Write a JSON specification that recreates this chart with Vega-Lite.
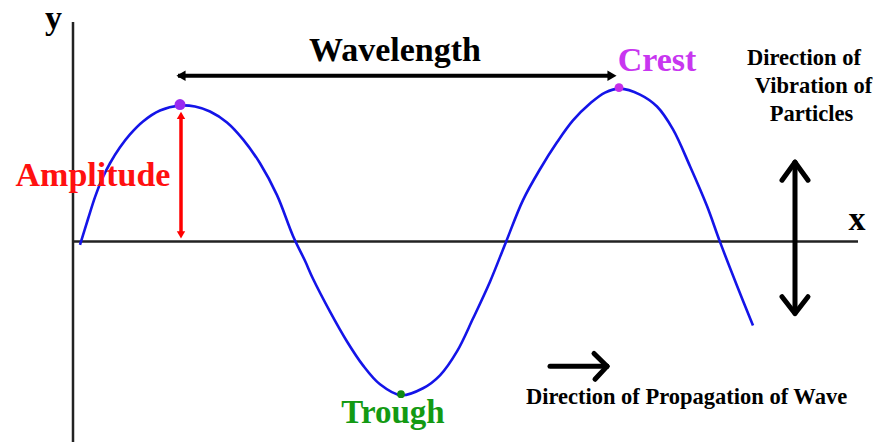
{
  "$schema": "https://vega.github.io/schema/vega-lite/v6.json",
  "width": 873,
  "height": 444,
  "autosize": {"type": "fit", "contains": "padding"},
  "padding": 0,
  "background": "white",
  "config": {"view": {"stroke": null}},
  "datasets": {
    "axes": [
      {"x": 73, "y": 22, "x2": 73, "y2": 444},
      {"x": 73, "y": 242.5, "x2": 858, "y2": 242.5}
    ],
    "wave": [
      {"x": 80, "y": 246}, {"x": 88, "y": 220}, {"x": 95, "y": 198}, {"x": 102, "y": 180},
      {"x": 110, "y": 164}, {"x": 120, "y": 148}, {"x": 130, "y": 135}, {"x": 143, "y": 122},
      {"x": 160, "y": 111}, {"x": 180, "y": 106}, {"x": 195, "y": 107}, {"x": 210, "y": 112},
      {"x": 227, "y": 123}, {"x": 243, "y": 140}, {"x": 260, "y": 164}, {"x": 277, "y": 196},
      {"x": 293, "y": 237}, {"x": 305, "y": 262}, {"x": 313, "y": 280}, {"x": 330, "y": 313},
      {"x": 347, "y": 343}, {"x": 363, "y": 367}, {"x": 380, "y": 386}, {"x": 401, "y": 397},
      {"x": 423, "y": 390}, {"x": 440, "y": 377}, {"x": 457, "y": 353}, {"x": 473, "y": 320},
      {"x": 490, "y": 283}, {"x": 506, "y": 243}, {"x": 523, "y": 201}, {"x": 540, "y": 170},
      {"x": 557, "y": 143}, {"x": 573, "y": 121}, {"x": 590, "y": 104}, {"x": 605, "y": 93},
      {"x": 620, "y": 89}, {"x": 640, "y": 95}, {"x": 657, "y": 107}, {"x": 673, "y": 130},
      {"x": 690, "y": 167}, {"x": 707, "y": 207}, {"x": 720, "y": 243}, {"x": 737, "y": 287},
      {"x": 753, "y": 327}
    ],
    "wavelength": [{"x": 178, "y": 76, "x2": 612, "y2": 76}],
    "amplitude": [{"x": 181, "y": 116, "x2": 181, "y2": 236}],
    "bigArrows": [
      {"x": 795, "y": 164, "x2": 795, "y2": 314},
      {"x": 795, "y": 163, "x2": 782, "y2": 181},
      {"x": 795, "y": 163, "x2": 808, "y2": 181},
      {"x": 795, "y": 315, "x2": 782, "y2": 298},
      {"x": 795, "y": 315, "x2": 808, "y2": 298},
      {"x": 550, "y": 368, "x2": 607, "y2": 368},
      {"x": 607, "y": 368, "x2": 594, "y2": 355},
      {"x": 607, "y": 368, "x2": 595, "y2": 381}
    ]
  },
  "encoding": {
    "x": {"type": "quantitative", "scale": {"domain": [0, 873], "nice": false, "zero": false}, "axis": null},
    "y": {"type": "quantitative", "scale": {"domain": [0, 444], "nice": false, "zero": false, "reverse": true}, "axis": null}
  },
  "layer": [
    {
      "data": {"name": "axes"},
      "mark": {"type": "rule", "color": "#222222", "strokeWidth": 2.5},
      "encoding": {"x": {"field": "x"}, "y": {"field": "y"}, "x2": {"field": "x2"}, "y2": {"field": "y2"}}
    },
    {
      "data": {"name": "wave"},
      "mark": {"type": "line", "color": "#1414e8", "strokeWidth": 2.6, "interpolate": "catmull-rom"},
      "encoding": {"x": {"field": "x"}, "y": {"field": "y"}}
    },
    {
      "data": {"name": "wavelength"},
      "mark": {"type": "rule", "color": "#000000", "strokeWidth": 4},
      "encoding": {"x": {"field": "x"}, "y": {"field": "y"}, "x2": {"field": "x2"}, "y2": {"field": "y2"}}
    },
    {
      "data": {"values": [{"x": 181, "y": 76}]},
      "mark": {"type": "point", "shape": "triangle-left", "filled": true, "color": "#000000", "size": 110, "opacity": 1},
      "encoding": {"x": {"field": "x"}, "y": {"field": "y"}}
    },
    {
      "data": {"values": [{"x": 612, "y": 76}]},
      "mark": {"type": "point", "shape": "triangle-right", "filled": true, "color": "#000000", "size": 110, "opacity": 1},
      "encoding": {"x": {"field": "x"}, "y": {"field": "y"}}
    },
    {
      "data": {"name": "amplitude"},
      "mark": {"type": "rule", "color": "#ff0000", "strokeWidth": 3.5},
      "encoding": {"x": {"field": "x"}, "y": {"field": "y"}, "x2": {"field": "x2"}, "y2": {"field": "y2"}}
    },
    {
      "data": {"values": [{"x": 181, "y": 116}]},
      "mark": {"type": "point", "shape": "triangle-up", "filled": true, "color": "#ff0000", "size": 70, "opacity": 1},
      "encoding": {"x": {"field": "x"}, "y": {"field": "y"}}
    },
    {
      "data": {"values": [{"x": 181, "y": 236}]},
      "mark": {"type": "point", "shape": "triangle-down", "filled": true, "color": "#ff0000", "size": 70, "opacity": 1},
      "encoding": {"x": {"field": "x"}, "y": {"field": "y"}}
    },
    {
      "data": {"name": "bigArrows"},
      "mark": {"type": "rule", "color": "#000000", "strokeWidth": 5, "strokeCap": "round"},
      "encoding": {"x": {"field": "x"}, "y": {"field": "y"}, "x2": {"field": "x2"}, "y2": {"field": "y2"}}
    },
    {
      "data": {"values": [{"x": 180, "y": 105}]},
      "mark": {"type": "point", "filled": true, "color": "#9a2cf0", "size": 120, "opacity": 1},
      "encoding": {"x": {"field": "x"}, "y": {"field": "y"}}
    },
    {
      "data": {"values": [{"x": 619, "y": 88}]},
      "mark": {"type": "point", "filled": true, "color": "#c42ee8", "size": 80, "opacity": 1},
      "encoding": {"x": {"field": "x"}, "y": {"field": "y"}}
    },
    {
      "data": {"values": [{"x": 401, "y": 396}]},
      "mark": {"type": "point", "filled": true, "color": "#128a12", "size": 60, "opacity": 1},
      "encoding": {"x": {"field": "x"}, "y": {"field": "y"}}
    },
    {
      "data": {"values": [
        {"x": 395, "y": 61, "label": "Wavelength"},
        {"x": 53.5, "y": 29, "label": "y"},
        {"x": 857, "y": 231.5, "label": "x"}
      ]},
      "mark": {"type": "text", "font": "Liberation Serif", "fontWeight": "bold", "fontSize": 34, "color": "#000000", "align": "center", "baseline": "alphabetic"},
      "encoding": {"x": {"field": "x"}, "y": {"field": "y"}, "text": {"field": "label"}}
    },
    {
      "data": {"values": [{"x": 93, "y": 186.5, "label": "Amplitude"}]},
      "mark": {"type": "text", "font": "Liberation Serif", "fontWeight": "bold", "fontSize": 34, "color": "#ff1010", "align": "center", "baseline": "alphabetic"},
      "encoding": {"x": {"field": "x"}, "y": {"field": "y"}, "text": {"field": "label"}}
    },
    {
      "data": {"values": [{"x": 657, "y": 71.5, "label": "Crest"}]},
      "mark": {"type": "text", "font": "Liberation Serif", "fontWeight": "bold", "fontSize": 34, "color": "#c836f0", "align": "center", "baseline": "alphabetic"},
      "encoding": {"x": {"field": "x"}, "y": {"field": "y"}, "text": {"field": "label"}}
    },
    {
      "data": {"values": [{"x": 393, "y": 425, "label": "Trough"}]},
      "mark": {"type": "text", "font": "Liberation Serif", "fontWeight": "bold", "fontSize": 33, "color": "#139a13", "align": "center", "baseline": "alphabetic"},
      "encoding": {"x": {"field": "x"}, "y": {"field": "y"}, "text": {"field": "label"}}
    },
    {
      "data": {"values": [
        {"x": 804, "y": 65, "label": "Direction  of"},
        {"x": 813.5, "y": 93, "label": "Vibration of"},
        {"x": 811.5, "y": 121.5, "label": "Particles"},
        {"x": 686.5, "y": 406, "label": "Direction of Propagation of Wave"}
      ]},
      "mark": {"type": "text", "font": "Liberation Serif", "fontWeight": "bold", "fontSize": 22.5, "color": "#000000", "align": "center", "baseline": "alphabetic"},
      "encoding": {"x": {"field": "x"}, "y": {"field": "y"}, "text": {"field": "label"}}
    }
  ]
}
